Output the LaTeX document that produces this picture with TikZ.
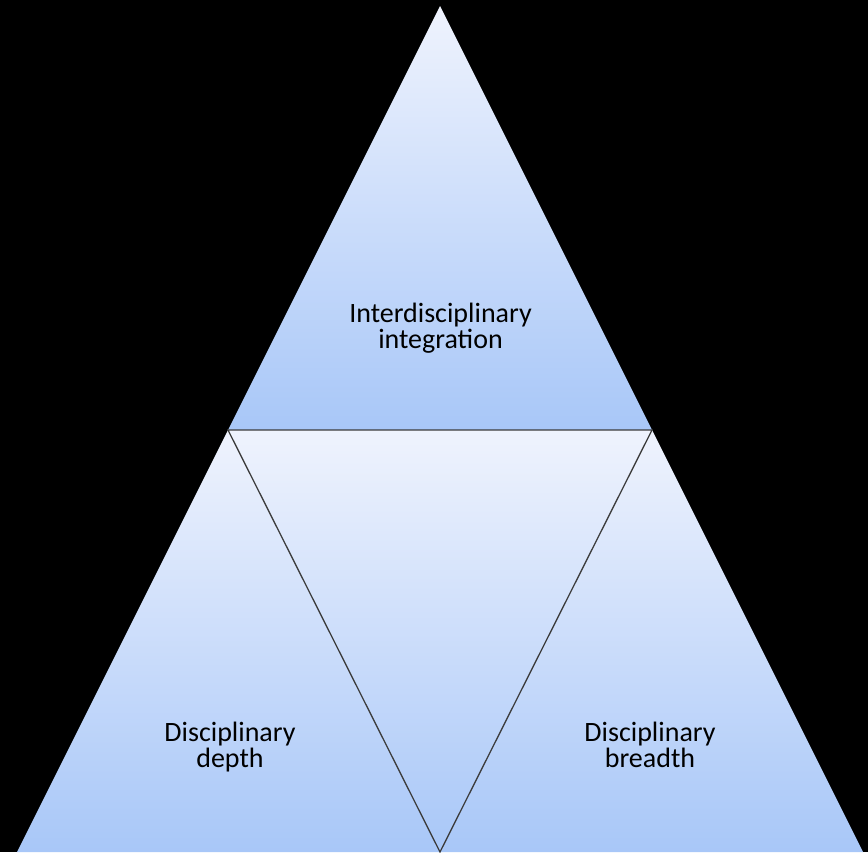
\documentclass[tikz,border=0pt]{standalone}
\usepackage{fontspec}
\setmainfont{Carlito}
\definecolor{lightbl}{RGB}{239,243,253}
\definecolor{deepbl}{RGB}{168,199,248}
\definecolor{edgegray}{RGB}{60,60,60}
\tikzset{
  tri/.style={top color=lightbl, bottom color=deepbl, draw=none},
  label/.style={font=\fontsize{28}{26}\selectfont, align=center, text=black, anchor=base, inner sep=0pt}
}
\begin{document}
\begin{tikzpicture}[x=1pt,y=-1pt]
  \fill[black] (0,0) rectangle (868,852);
  \useasboundingbox (0,0) rectangle (868,852);
  \coordinate (apex) at (440,6);
  \coordinate (ml) at (228,430);
  \coordinate (mr) at (652,430);
  \coordinate (bl) at (17,852);
  \coordinate (bm) at (440,852);
  \coordinate (br) at (863,852);
  \shade[tri] (apex) -- (ml) -- (mr) -- cycle;
  \shade[tri] (ml) -- (bl) -- (bm) -- cycle;
  \shade[tri] (mr) -- (bm) -- (br) -- cycle;
  \shade[tri] (ml) -- (mr) -- (bm) -- cycle;
  \draw[edgegray, line width=1.3pt, line join=miter] (ml) -- (mr) -- (bm) -- cycle;
  \node[label] (top) at (440.5,348) {Interdisciplinary\\integration};
  \node[label] (left) at (230,767) {Disciplinary\\depth};
  \node[label] (right) at (650,767) {Disciplinary\\breadth};
\end{tikzpicture}
\end{document}
